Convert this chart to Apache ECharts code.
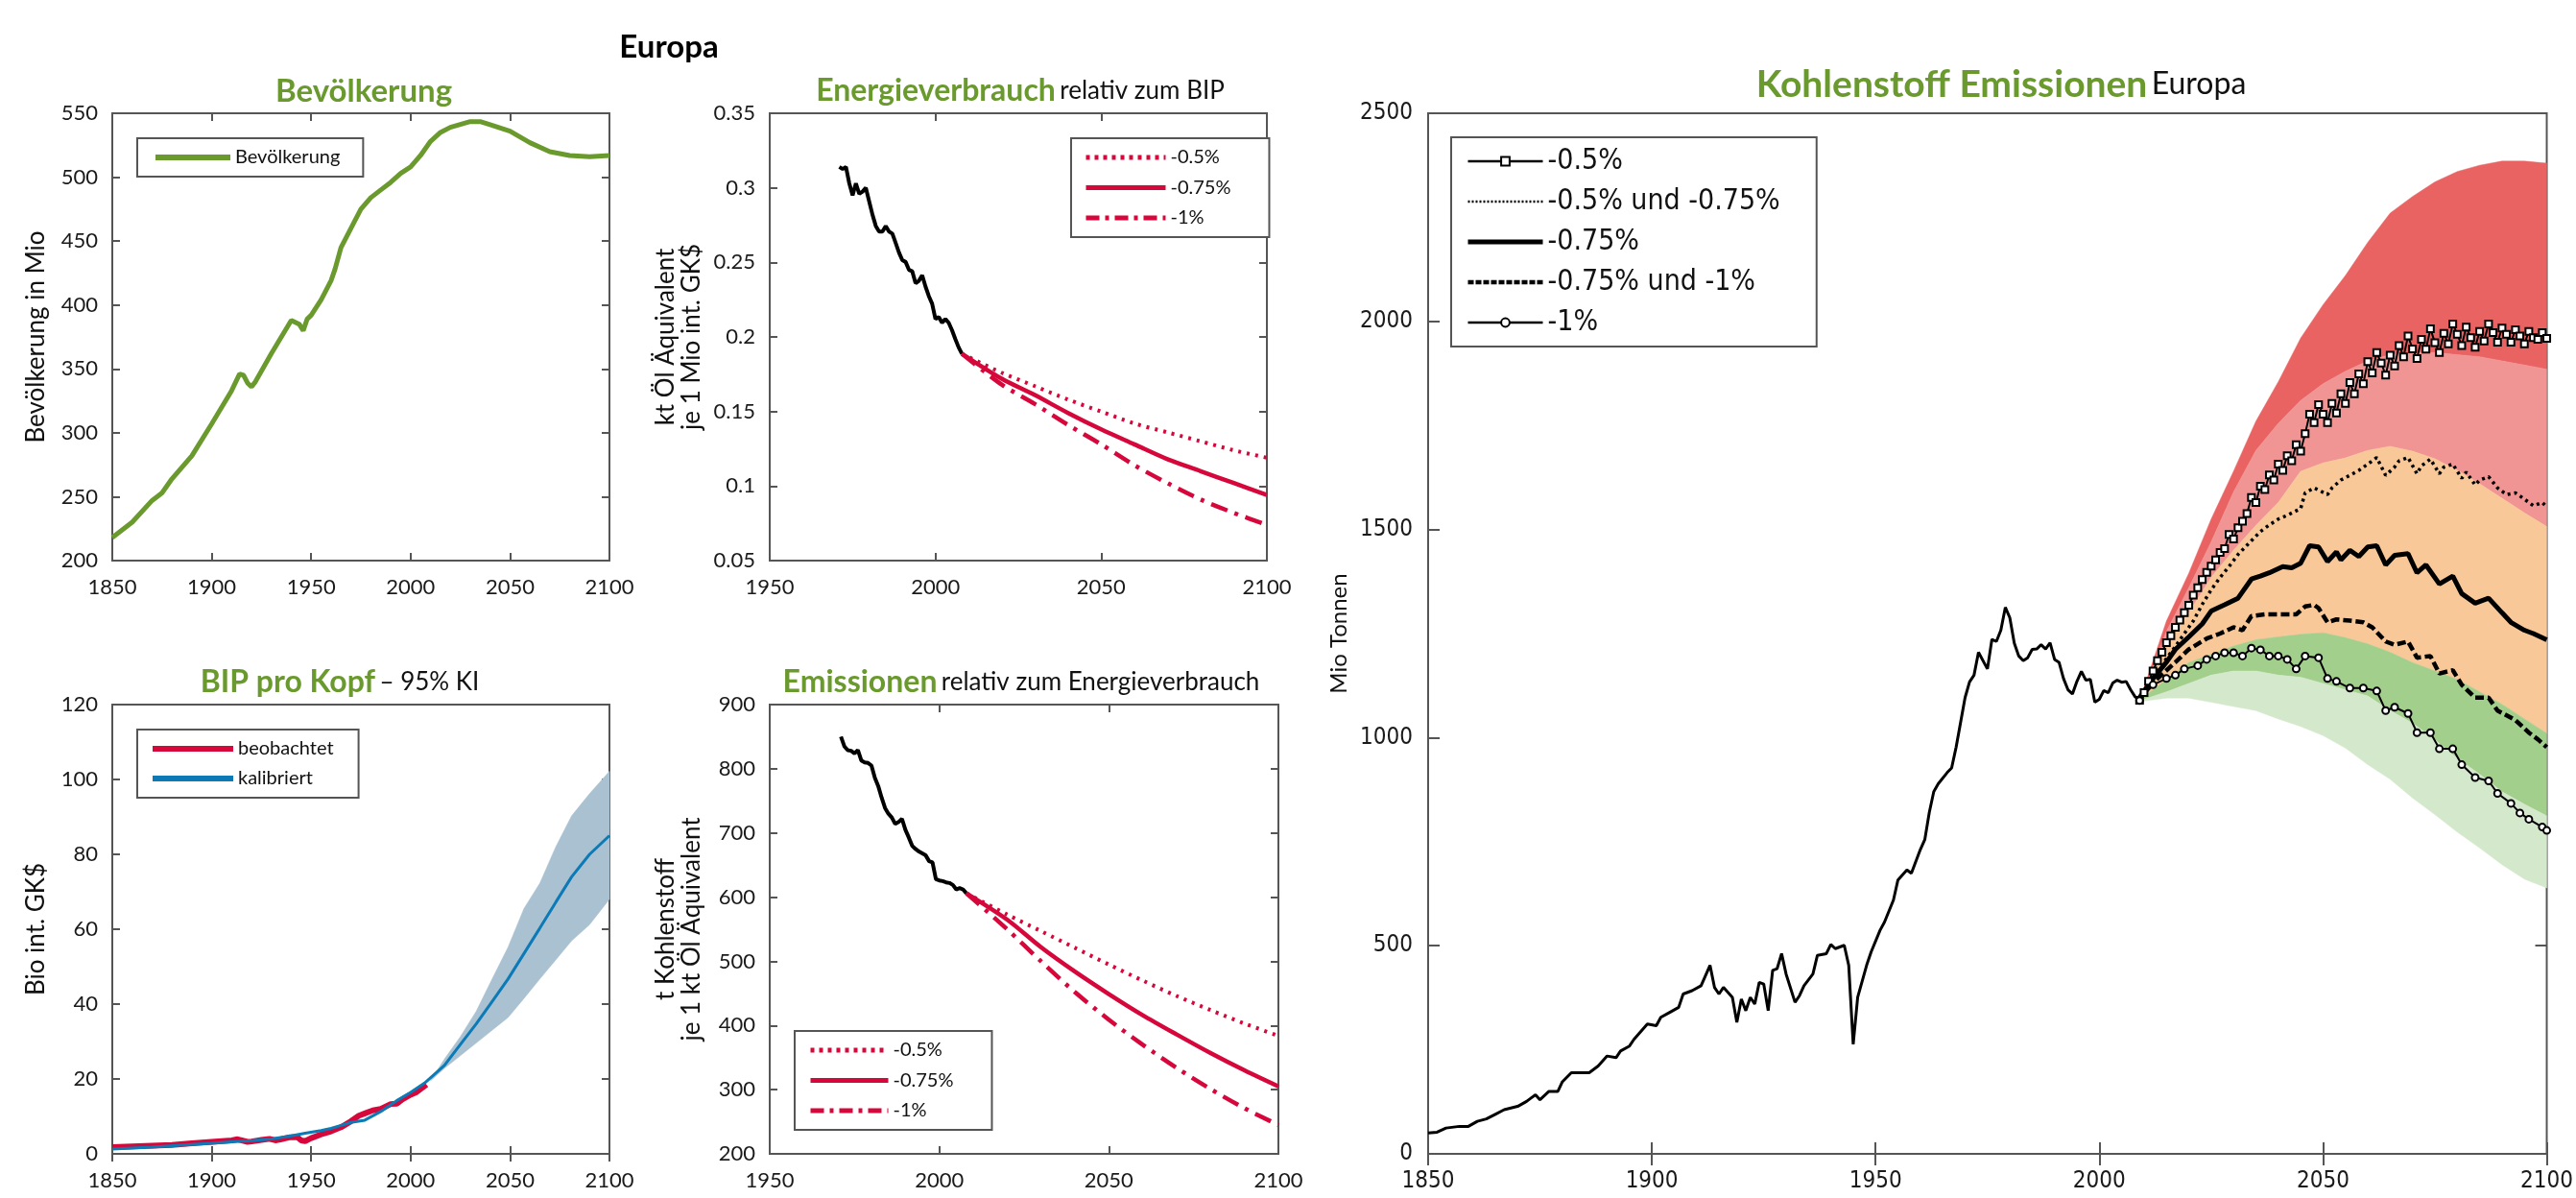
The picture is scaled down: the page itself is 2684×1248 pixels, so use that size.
<!DOCTYPE html>
<html>
<head>
<meta charset="utf-8">
<script src="https://cdn.jsdelivr.net/npm/echarts@6/dist/echarts.min.js"></script>
<style>
  html, body { margin: 0; padding: 0; background: #fff; }
  #chart { width: 2684px; height: 1248px; }
</style>
</head>
<body>
<div id="chart"></div>
<script>
// ---- Bevölkerung (Mio) ----
var popYears = [1850, 1860, 1870, 1875, 1880, 1890, 1900, 1910, 1914, 1916, 1918, 1920, 1922, 1930, 1940, 1944, 1946, 1948, 1950, 1955, 1960, 1962, 1965, 1970, 1975, 1980, 1985, 1990, 1995, 2000, 2005, 2010, 2015, 2020, 2030, 2035, 2040, 2050, 2060, 2070, 2080, 2090, 2100];
var popValues = [218, 230, 247, 253, 264, 282, 307, 333, 346, 345, 339, 336, 340, 362, 388, 385, 380, 389, 392, 404, 419, 428, 445, 460, 475, 484, 490, 496, 503, 508, 517, 528, 535, 539, 543.5, 543.5, 541, 536, 527, 520, 517, 516, 517];

// ---- Energieverbrauch relativ zum BIP ----
var histYears = [1971, 1972, 1973, 1974, 1975, 1976, 1977, 1978, 1979, 1980, 1981, 1982, 1983, 1984, 1985, 1986, 1987, 1988, 1989, 1990, 1991, 1992, 1993, 1994, 1995, 1996, 1997, 1998, 1999, 2000, 2001, 2002, 2003, 2004, 2005, 2006, 2007, 2008];
var energyHist = [0.314, 0.3126, 0.314, 0.303, 0.295, 0.303, 0.296, 0.2975, 0.300, 0.291, 0.282, 0.2744, 0.2706, 0.2706, 0.2744, 0.2706, 0.2693, 0.263, 0.2566, 0.2515, 0.2503, 0.245, 0.244, 0.236, 0.2376, 0.2414, 0.2338, 0.2274, 0.2223, 0.212, 0.2134, 0.2095, 0.212, 0.2095, 0.2045, 0.1986, 0.193, 0.1887];
var projYears = [2008, 2020, 2030, 2040, 2050, 2060, 2070, 2080, 2090, 2100];
var energy050 = [0.1887, 0.176, 0.167, 0.158, 0.150, 0.142, 0.136, 0.130, 0.124, 0.119];
var energy075 = [0.1887, 0.172, 0.161, 0.149, 0.138, 0.128, 0.118, 0.110, 0.102, 0.094];
var energy100 = [0.1887, 0.168, 0.155, 0.141, 0.128, 0.114, 0.102, 0.091, 0.082, 0.074];

// ---- Emissionen relativ zum Energieverbrauch ----
var emisHist = [850, 835, 829, 828, 824, 829, 813, 810, 809, 805, 786, 773, 755, 739, 730, 724, 714, 717, 722, 705, 693, 680, 675, 671, 668, 665, 656, 654, 628, 626, 625, 623, 622, 619, 612, 614, 612, 606];
var emis050 = [606, 573, 547, 521, 495, 470, 446, 424, 403, 384];
var emis075 = [606, 565, 522, 484, 449, 416, 386, 357, 330, 305];
var emis100 = [606, 550, 500, 452, 409, 370, 334, 301, 271, 245];

// ---- BIP pro Kopf ----
var gdpObsYears = [1850, 1860, 1870, 1880, 1890, 1900, 1910, 1913, 1918, 1920, 1925, 1929, 1932, 1935, 1939, 1943, 1945, 1947, 1950, 1955, 1960, 1965, 1970, 1974, 1977, 1981, 1985, 1990, 1993, 1996, 2000, 2003, 2008];
var gdpObs = [1.8, 2.0, 2.2, 2.4, 2.8, 3.2, 3.6, 3.9, 3.2, 3.3, 3.7, 4.0, 3.6, 3.9, 4.4, 4.5, 3.6, 3.4, 4.2, 5.2, 6.0, 7.1, 8.7, 10.2, 10.8, 11.6, 12.0, 13.3, 13.4, 14.6, 15.8, 16.5, 18.5];
var gdpCalYears = [1850, 1870, 1890, 1900, 1910, 1920, 1930, 1940, 1947, 1955, 1960, 1965, 1970, 1977, 1985, 1993, 2000, 2007, 2017, 2025, 2033, 2041, 2049, 2057, 2065, 2073, 2081, 2090, 2100];
var gdpCal = [1.3, 1.8, 2.5, 2.8, 3.2, 3.5, 4.0, 4.8, 5.5, 6.2, 6.8, 7.6, 8.4, 9.0, 11.3, 14.2, 16.4, 18.9, 23.6, 29.2, 34.7, 40.7, 46.7, 53.5, 60.3, 67.2, 74.0, 80.0, 85.0];
var gdpBandYears = [2010, 2017, 2025, 2033, 2041, 2049, 2057, 2065, 2073, 2081, 2090, 2100];
var gdpBandUpper = [19.5, 25.3, 31.3, 38.1, 46.7, 55.2, 65.5, 72.3, 82.0, 90.3, 96.2, 102.2];
var gdpBandLower = [19.5, 22.8, 26.2, 29.6, 33.0, 36.4, 41.5, 46.7, 51.8, 56.9, 61.2, 68.0];

// ---- Kohlenstoff Emissionen Europa (Mio Tonnen) ----
var carbonYears = [1850, 1852, 1854, 1857, 1859, 1861, 1863, 1865, 1867, 1870, 1872, 1873, 1874, 1875, 1877, 1879, 1880, 1882, 1884, 1886, 1888, 1890, 1892, 1893, 1895, 1896, 1899, 1901, 1902, 1904, 1906, 1907, 1909, 1911, 1913, 1914, 1915, 1916, 1918, 1919, 1920, 1921, 1922, 1923, 1924, 1925, 1926, 1927, 1928, 1929, 1930, 1932, 1933, 1934, 1936, 1937, 1939, 1940, 1941, 1943, 1944, 1945, 1946, 1948, 1949, 1951, 1952, 1954, 1955, 1957, 1958, 1960, 1961, 1962, 1963, 1964, 1966, 1967, 1968, 1970, 1971, 1972, 1973, 1975, 1976, 1977, 1978, 1979, 1980, 1981, 1982, 1983, 1984, 1985, 1986, 1987, 1988, 1989, 1990, 1991, 1992, 1993, 1994, 1995, 1996, 1997, 1998, 1999, 2000, 2001, 2002, 2003, 2004, 2005, 2006, 2007, 2008, 2009];
var carbonHist = [50, 52, 62, 66, 66, 78, 84, 95, 106, 114, 126, 134, 142, 130, 150, 150, 173, 195, 195, 195, 211, 235, 231, 247, 259, 275, 312, 308, 328, 340, 352, 384, 392, 404, 453, 400, 384, 400, 376, 316, 372, 344, 376, 360, 412, 408, 344, 441, 445, 481, 432, 364, 380, 404, 432, 477, 481, 503, 493, 501, 453, 263, 376, 453, 485, 537, 557, 610, 658, 682, 674, 731, 755, 820, 870, 889, 916, 927, 977, 1096, 1134, 1150, 1205, 1165, 1236, 1231, 1258, 1313, 1288, 1227, 1196, 1185, 1192, 1212, 1213, 1223, 1213, 1228, 1188, 1181, 1142, 1115, 1105, 1135, 1159, 1138, 1140, 1085, 1092, 1113, 1108, 1131, 1138, 1133, 1135, 1115, 1098, 1090];

var c050Years = [2009, 2010, 2011, 2012, 2013, 2014, 2015, 2016, 2017, 2018, 2019, 2020, 2021, 2022, 2023, 2024, 2025, 2026, 2027, 2028, 2029, 2030, 2031, 2032, 2033, 2034, 2035, 2036, 2037, 2038, 2039, 2040, 2041, 2042, 2043, 2044, 2045, 2046, 2047, 2048, 2049, 2050, 2051, 2052, 2053, 2054, 2055, 2056, 2057, 2058, 2059, 2060, 2061, 2062, 2063, 2064, 2065, 2066, 2067, 2068, 2069, 2070, 2071, 2072, 2073, 2074, 2075, 2076, 2077, 2078, 2079, 2080, 2081, 2082, 2083, 2084, 2085, 2086, 2087, 2088, 2089, 2090, 2091, 2092, 2093, 2094, 2095, 2096, 2097, 2098, 2099, 2100];
var c050 = [1090, 1108, 1135, 1160, 1185, 1205, 1228, 1245, 1265, 1282, 1300, 1318, 1342, 1360, 1380, 1397, 1412, 1427, 1445, 1454, 1488, 1477, 1504, 1520, 1538, 1577, 1565, 1604, 1596, 1631, 1619, 1657, 1642, 1677, 1665, 1704, 1688, 1730, 1777, 1757, 1800, 1777, 1757, 1803, 1780, 1826, 1803, 1853, 1826, 1874, 1850, 1903, 1876, 1925, 1900, 1871, 1919, 1893, 1942, 1915, 1965, 1934, 1911, 1957, 1933, 1982, 1949, 1925, 1971, 1946, 1994, 1969, 1942, 1986, 1961, 1938, 1976, 1953, 1994, 1973, 1950, 1984, 1969, 1950, 1980, 1965, 1946, 1976, 1961, 1957, 1973, 1959];
var c0575Years = [2009, 2011, 2013, 2015, 2017, 2019, 2021, 2023, 2025, 2027, 2029, 2031, 2033, 2034, 2036, 2038, 2040, 2042, 2044, 2045, 2046, 2048, 2051, 2052, 2054, 2056, 2058, 2060, 2062, 2064, 2066, 2067, 2069, 2071, 2072, 2074, 2076, 2077, 2079, 2081, 2082, 2084, 2085, 2087, 2089, 2091, 2093, 2095, 2097, 2099, 2100];
var c0575 = [1090, 1125, 1160, 1190, 1219, 1250, 1280, 1320, 1355, 1385, 1411, 1440, 1462, 1473, 1495, 1511, 1525, 1534, 1545, 1550, 1588, 1600, 1584, 1600, 1619, 1630, 1642, 1657, 1673, 1630, 1650, 1665, 1673, 1634, 1653, 1669, 1634, 1650, 1657, 1623, 1638, 1607, 1619, 1627, 1600, 1584, 1588, 1573, 1557, 1565, 1554];
var c075Years = [2009, 2012, 2015, 2017, 2020, 2023, 2025, 2028, 2031, 2034, 2036, 2038, 2041, 2043, 2045, 2047, 2049, 2051, 2053, 2054, 2056, 2058, 2060, 2062, 2064, 2066, 2069, 2071, 2073, 2076, 2079, 2081, 2084, 2087, 2090, 2092, 2095, 2097, 2100];
var c075 = [1096, 1142, 1181, 1212, 1242, 1273, 1304, 1319, 1335, 1381, 1388, 1396, 1411, 1408, 1419, 1461, 1458, 1423, 1446, 1427, 1450, 1435, 1458, 1461, 1415, 1438, 1442, 1396, 1415, 1369, 1388, 1346, 1323, 1335, 1300, 1277, 1258, 1250, 1235];
var c0751Years = [2009, 2013, 2017, 2020, 2024, 2027, 2030, 2032, 2034, 2037, 2040, 2044, 2046, 2048, 2049, 2051, 2053, 2056, 2059, 2061, 2064, 2066, 2069, 2071, 2074, 2076, 2079, 2081, 2084, 2087, 2089, 2093, 2096, 2098, 2100];
var c0751 = [1096, 1142, 1181, 1212, 1238, 1250, 1265, 1258, 1292, 1296, 1296, 1296, 1315, 1319, 1311, 1277, 1284, 1281, 1277, 1265, 1231, 1223, 1231, 1192, 1196, 1154, 1162, 1127, 1096, 1096, 1065, 1042, 1012, 996, 977];
var c100Years = [2009, 2012, 2015, 2017, 2019, 2022, 2024, 2026, 2028, 2030, 2032, 2034, 2036, 2038, 2040, 2042, 2044, 2046, 2049, 2051, 2053, 2056, 2059, 2062, 2064, 2066, 2069, 2071, 2074, 2076, 2079, 2081, 2084, 2087, 2089, 2092, 2094, 2096, 2099, 2100];
var c100 = [1089, 1127, 1142, 1150, 1165, 1173, 1188, 1196, 1204, 1204, 1196, 1215, 1211, 1196, 1196, 1188, 1165, 1196, 1192, 1142, 1135, 1119, 1119, 1112, 1065, 1073, 1058, 1012, 1012, 973, 973, 935, 904, 896, 866, 842, 819, 804, 785, 777];

// fan band edges, top to bottom
var fanYears = [2009, 2010, 2015, 2020, 2025, 2030, 2035, 2040, 2045, 2050, 2055, 2060, 2065, 2070, 2075, 2080, 2085, 2090, 2095, 2100];
var fanEdge0 = [1090, 1120, 1280, 1395, 1525, 1640, 1760, 1855, 1960, 2040, 2110, 2190, 2260, 2300, 2335, 2360, 2375, 2385, 2385, 2380];
var fanEdge1 = [1090, 1112, 1255, 1360, 1470, 1590, 1690, 1755, 1810, 1850, 1880, 1905, 1920, 1925, 1925, 1920, 1915, 1905, 1895, 1885];
var fanEdge2 = [1090, 1105, 1225, 1300, 1385, 1450, 1510, 1565, 1640, 1660, 1672, 1690, 1700, 1688, 1670, 1642, 1610, 1575, 1540, 1507];
var fanEdge3 = [1090, 1098, 1140, 1180, 1200, 1220, 1235, 1242, 1248, 1252, 1240, 1225, 1205, 1180, 1160, 1140, 1110, 1080, 1045, 1010];
var fanEdge4 = [1088, 1092, 1110, 1130, 1150, 1160, 1160, 1150, 1145, 1130, 1115, 1100, 1065, 1035, 995, 950, 912, 870, 840, 812];
var fanEdge5 = [1086, 1088, 1095, 1095, 1085, 1075, 1065, 1045, 1027, 1005, 975, 935, 900, 855, 815, 773, 735, 695, 660, 639];
var fanColors = ['#ea6363', '#f09494', '#f8c898', '#a2cf8c', '#d4e9cc'];

var GREEN = '#6a9a2e';
var RED = '#d6073b';
var BLUE = '#0b7ab6';
var FRAME = '#555555';
var FONT = 'Lato, "Open Sans", sans-serif';
var NARROW = '"Liberation Sans Narrow", "DejaVu Sans Condensed", Lato, sans-serif';

function pairs(xs, ys) {
    return xs.map(function (x, i) { return [x, ys[i]]; });
}

function band(g, years, upper, lower, color) {
    return {
        type: 'custom',
        xAxisIndex: 2 * g,
        yAxisIndex: 2 * g,
        silent: true,
        z: 1,
        data: [[years[0], lower[0]]],
        renderItem: function (params, api) {
            var pts = [];
            for (var i = 0; i < years.length; i++) pts.push(api.coord([years[i], upper[i]]));
            for (var j = years.length - 1; j >= 0; j--) pts.push(api.coord([years[j], lower[j]]));
            return { type: 'polygon', shape: { points: pts }, style: { fill: color, stroke: color, lineWidth: 0.5 } };
        }
    };
}

function line(g, name, xs, ys, color, width, type, extra) {
    var s = {
        type: 'line',
        name: name,
        xAxisIndex: 2 * g,
        yAxisIndex: 2 * g,
        data: pairs(xs, ys),
        symbol: 'none',
        z: 3,
        lineStyle: { color: color, width: width, type: type || 'solid' },
        itemStyle: { color: color }
    };
    return Object.assign(s, extra || {});
}

function axisPair(kind, g, min, max, step, label, tickLen) {
    var tick = { inside: true, length: tickLen, lineStyle: { color: FRAME, width: 2 } };
    var base = { type: 'value', gridIndex: g, min: min, max: max, interval: step, splitLine: { show: false }, axisLine: { show: false }, axisTick: tick };
    var first = Object.assign({}, base, { position: kind === 'x' ? 'bottom' : 'left', axisLabel: label });
    var second = Object.assign({}, base, { position: kind === 'x' ? 'top' : 'right', axisLabel: { show: false } });
    return [first, second];
}

function smallLabel(margin, fmt) {
    return { fontFamily: FONT, fontSize: 22, color: '#1a1a1a', margin: margin, formatter: fmt || function (v) { return String(v); } };
}
var bigLabel = function (margin) {
    return { fontFamily: NARROW, fontSize: 24, color: '#1a1a1a', margin: margin, formatter: function (v) { return String(v); } };
};

function yName(name, gap) {
    return { name: name, nameLocation: 'middle', nameRotate: 90, nameGap: gap, nameTextStyle: { fontFamily: FONT, fontSize: 26, color: '#111', lineHeight: 27 } };
}

var xAxes = [].concat(
    axisPair('x', 0, 1850, 2100, 50, smallLabel(17), 8),
    axisPair('x', 1, 1950, 2100, 50, smallLabel(17), 8),
    axisPair('x', 2, 1850, 2100, 50, smallLabel(17), 8),
    axisPair('x', 3, 1950, 2100, 50, smallLabel(17), 8),
    axisPair('x', 4, 1850, 2100, 50, bigLabel(17), 12)
);
var yAxes = [].concat(
    axisPair('y', 0, 200, 550, 50, smallLabel(15), 8),
    axisPair('y', 1, 0.05, 0.35, 0.05, smallLabel(15, function (v) { return String(+v.toFixed(2)); }), 8),
    axisPair('y', 2, 0, 120, 20, smallLabel(15), 8),
    axisPair('y', 3, 200, 900, 100, smallLabel(15), 8),
    axisPair('y', 4, 0, 2500, 500, bigLabel(16), 12)
);
Object.assign(yAxes[0], yName('Bevölkerung in Mio', 66));
Object.assign(yAxes[2], yName('kt Öl Äquivalent\nje 1 Mio int. GK$', 68));
Object.assign(yAxes[4], yName('Bio int. GK$', 66));
Object.assign(yAxes[6], yName('t Kohlenstoff\nje 1 kt Öl Äquivalent', 68));
Object.assign(yAxes[8], yName('Mio Tonnen', 79));
yAxes[8].nameTextStyle.fontSize = 24;

var gridBox = { show: true, borderColor: FRAME, borderWidth: 2, backgroundColor: 'transparent' };
var grids = [
    Object.assign({ left: 117, top: 118, width: 518, height: 466 }, gridBox),
    Object.assign({ left: 802, top: 118, width: 518, height: 466 }, gridBox),
    Object.assign({ left: 117, top: 734, width: 518, height: 468 }, gridBox),
    Object.assign({ left: 802, top: 734, width: 530, height: 468 }, gridBox),
    Object.assign({ left: 1488, top: 118, width: 1186, height: 1084 }, gridBox)
];

var dotted = [3, 6];
var dashDot = [18, 8, 4, 8];

var series = [];
// Bevölkerung
series.push(line(0, 'Bevölkerung#P', popYears, popValues, GREEN, 5));
// Energie
series.push(line(1, 'hist#E', histYears, energyHist, '#000', 4));
series.push(line(1, '-0.5%#E', projYears, energy050, RED, 4, dotted, { smooth: 0.3 }));
series.push(line(1, '-0.75%#E', projYears, energy075, RED, 4.5, 'solid', { smooth: 0.3 }));
series.push(line(1, '-1%#E', projYears, energy100, RED, 4.5, dashDot, { smooth: 0.3 }));
// BIP
series.push(band(2, gdpBandYears, gdpBandUpper, gdpBandLower, '#a9c1d0'));
series.push(line(2, 'beobachtet#B', gdpObsYears, gdpObs, RED, 6));
series.push(line(2, 'kalibriert#B', gdpCalYears, gdpCal, BLUE, 3));
// Emissionen
series.push(line(3, 'hist#M', histYears, emisHist, '#000', 4));
series.push(line(3, '-0.5%#M', projYears, emis050, RED, 4, dotted, { smooth: 0.3 }));
series.push(line(3, '-0.75%#M', projYears, emis075, RED, 4.5, 'solid', { smooth: 0.3 }));
series.push(line(3, '-1%#M', projYears, emis100, RED, 4.5, dashDot, { smooth: 0.3 }));
// Kohlenstoff fan
var edges = [fanEdge0, fanEdge1, fanEdge2, fanEdge3, fanEdge4, fanEdge5];
for (var b = 0; b < 5; b++) {
    series.push(band(4, fanYears, edges[b], edges[b + 1], fanColors[b]));
}
series.push(line(4, 'hist#K', carbonYears, carbonHist, '#000', 3));
series.push(line(4, '-0.5%#K', c050Years, c050, '#000', 2, 'solid', { symbol: 'emptyRect', symbolSize: 7, itemStyle: { color: '#000', borderWidth: 1.5 } }));
series.push(line(4, '-0.5% und -0.75%#K', c0575Years, c0575, '#000', 3.5, [3, 4]));
series.push(line(4, '-0.75%#K', c075Years, c075, '#000', 5));
series.push(line(4, '-0.75% und -1%#K', c0751Years, c0751, '#000', 4.5, [9, 4]));
series.push(line(4, '-1%#K', c100Years, c100, '#000', 2, 'solid', { symbol: 'emptyCircle', symbolSize: 7, itemStyle: { color: '#000', borderWidth: 1.5 } }));

function legend(pos, names, opts) {
    return Object.assign({
        orient: 'vertical',
        data: names,
        selectedMode: false,
        itemHeight: 10,
        backgroundColor: '#fff',
        borderColor: FRAME,
        borderWidth: 2,
        borderRadius: 0,
        itemStyle: { opacity: 0 },
        textStyle: { fontFamily: FONT, fontSize: 20, color: '#111' },
        formatter: function (n) { return n.split('#')[0]; }
    }, pos, opts || {});
}

function item(name, width, type) {
    var ls = { width: width };
    if (type) ls.type = type;
    return { name: name, lineStyle: ls };
}

var legends = [
    legend({ left: 143, top: 144 }, [item('Bevölkerung#P', 6)], { itemWidth: 78, itemGap: 11, padding: [10, 24, 10, 16] }),
    legend({ left: 1116, top: 144 }, [item('-0.5%#E', 5, [4, 5]), item('-0.75%#E', 5), item('-1%#E', 5, [14, 6, 4, 6])], { itemWidth: 83, itemGap: 11.5, padding: [10, 40, 10, 13] }),
    legend({ left: 143, top: 760 }, [item('beobachtet#B', 6), item('kalibriert#B', 6)], { itemWidth: 84, itemGap: 11, padding: [10, 26, 10, 13] }),
    legend({ left: 828, top: 1074 }, [item('-0.5%#M', 5, [4, 5]), item('-0.75%#M', 5), item('-1%#M', 5, [14, 6, 4, 6])], { itemWidth: 81, itemGap: 11.5, padding: [10, 40, 10, 14] }),
    legend({ left: 1512, top: 143 }, [
        { name: '-0.5%#K', itemStyle: { opacity: 1 }, lineStyle: { width: 2.5 } },
        { name: '-0.5% und -0.75%#K', lineStyle: { width: 2.5, type: [2, 2] } },
        { name: '-0.75%#K', lineStyle: { width: 5 } },
        { name: '-0.75% und -1%#K', lineStyle: { width: 4.5, type: [6, 2] } },
        { name: '-1%#K', itemStyle: { opacity: 1 }, lineStyle: { width: 2.5 } }
    ], { itemWidth: 78, itemHeight: 11, itemGap: 12, padding: [10, 38, 10, 15], textStyle: { fontFamily: NARROW, fontSize: 30, color: '#111' } })
];

function title(text, x, y, rich, style) {
    return {
        text: text,
        left: x,
        top: y,
        textAlign: 'center',
        textVerticalAlign: 'middle',
        padding: 0,
        textStyle: Object.assign({ fontFamily: FONT, rich: rich || {} }, style || {})
    };
}
var richSmall = {
    g: { fontFamily: FONT, fontWeight: 'bold', fontSize: 32, color: GREEN },
    k: { fontFamily: FONT, fontWeight: 'normal', fontSize: 26, color: '#111' }
};
var richBig = {
    g: { fontFamily: FONT, fontWeight: 'bold', fontSize: 39, color: GREEN },
    k: { fontFamily: FONT, fontWeight: 'normal', fontSize: 32, color: '#111' }
};
var titles = [
    title('Europa', 697, 49, null, { fontWeight: 'bold', fontSize: 33, color: '#000' }),
    title('Bevölkerung', 379, 95, null, { fontWeight: 'bold', fontSize: 33, color: GREEN }),
    title('{g|Energieverbrauch} {k|relativ zum BIP}', 1063, 95, richSmall),
    title('{g|BIP pro Kopf} {k|– 95% KI}', 354, 711, richSmall),
    title('{g|Emissionen} {k|relativ zum Energieverbrauch}', 1064, 711, richSmall),
    title('{g|Kohlenstoff Emissionen} {k|Europa}', 2085, 88, richBig)
];

var chart = echarts.init(document.getElementById('chart'));
chart.setOption({
    backgroundColor: '#fff',
    animation: false,
    title: titles,
    legend: legends,
    grid: grids,
    xAxis: xAxes,
    yAxis: yAxes,
    series: series
});
</script>
</body>
</html>
